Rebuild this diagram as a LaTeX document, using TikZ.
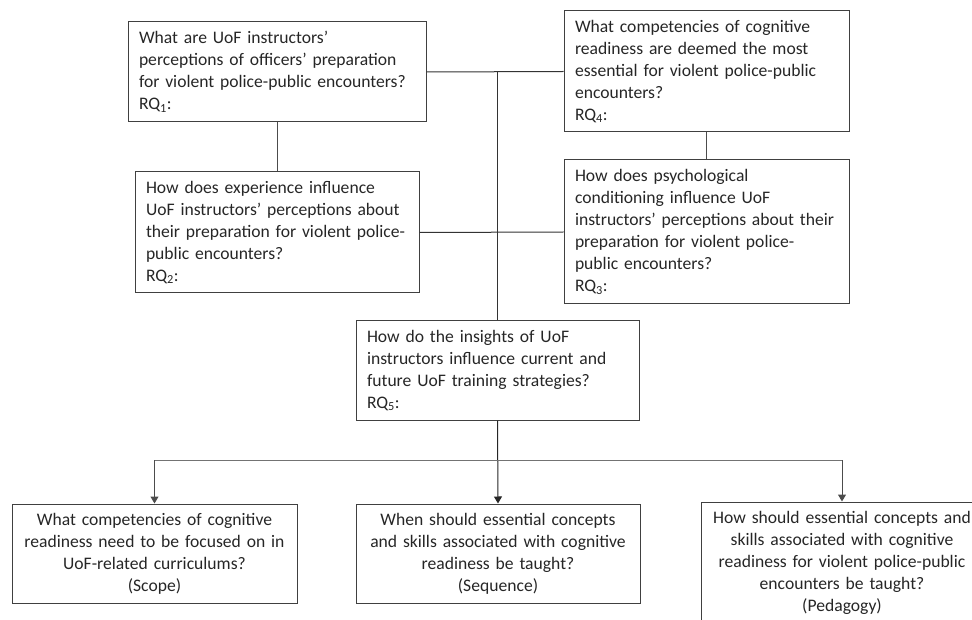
\documentclass[tikz,border=0pt]{standalone}
\usepackage{fontspec}
\setmainfont{Carlito}
\usetikzlibrary{arrows.meta}

\begin{document}
\begin{tikzpicture}
  [x=1pt,y=-1pt,line width=1pt,
   every node/.style={rectangle,draw=black!75,text=black!85,inner xsep=11pt,inner ysep=0pt,
     font=\fontsize{17.6}{22}\selectfont},
   rqbox/.style={align=left},
   subbox/.style={align=center},
   arr/.style={-{Triangle[width=8pt,length=7pt]}}]
  \useasboundingbox (0,0) rectangle (972,620);
  \clip (0,0) rectangle (972,620);

  \node[rqbox,text width=276pt,minimum height=100pt] (rq1) at (277,72)
    {What are UoF instructors’\\perceptions of officers’ preparation\\for violent police-public encounters?\\RQ\textsubscript{1}:};
  \node[rqbox,text width=262pt,minimum height=121pt] (rq2) at (277,232.5)
    {How does experience influence\\UoF instructors’ perceptions about\\their preparation for violent police-\\public encounters?\\RQ\textsubscript{2}:};
  \node[rqbox,text width=263pt,minimum height=144pt] (rq3) at (706.5,232)
    {How does psychological\\conditioning influence UoF\\instructors’ perceptions about their\\preparation for violent police-\\public encounters?\\RQ\textsubscript{3}:};
  \node[rqbox,text width=263pt,minimum height=121pt] (rq4) at (706.5,71.5)
    {What competencies of cognitive\\readiness are deemed the most\\essential for violent police-public\\encounters?\\RQ\textsubscript{4}:};
  \node[rqbox,text width=261pt,minimum height=99pt] (rq5) at (497.5,370.5)
    {How do the insights of UoF\\instructors influence current and\\future UoF training strategies?\\RQ\textsubscript{5}:};

  \node[subbox,text width=263pt,minimum height=99pt] (scope) at (154.5,553.5)
    {What competencies of cognitive\\readiness need to be focused on in\\UoF-related curriculums?\\(Scope)};
  \node[subbox,text width=262pt,minimum height=99pt] (seq) at (498,553.5)
    {When should essential concepts\\and skills associated with cognitive\\readiness be taught?\\(Sequence)};
  \node[subbox,text width=260pt,minimum height=122pt] (ped) at (842,563)
    {How should essential concepts and\\skills associated with cognitive\\readiness for violent police-public\\encounters be taught?\\(Pedagogy)};

  \coordinate (top) at (rq5.north |- rq1.east);
  \coordinate (split) at (497.5,460);

  \draw[black!80] (rq1.east) -- (rq4.west);
  \draw[black!80] (top) -- (rq5.north);
  \foreach \from/\to in {rq1/rq2,rq4/rq3}
    \draw[black!70] (\from.south) -- (\to.north);
  \draw[black!80] (rq2.east) -- (rq3.west);

  \draw[black!85,arr] (rq5.south) -- (seq.north);
  \draw[black!55] (scope.north |- split) -- (ped.north |- split);
  \foreach \to in {scope,ped}
    \draw[black!70,arr] (\to.north |- split) -- (\to.north);
\end{tikzpicture}
\end{document}
